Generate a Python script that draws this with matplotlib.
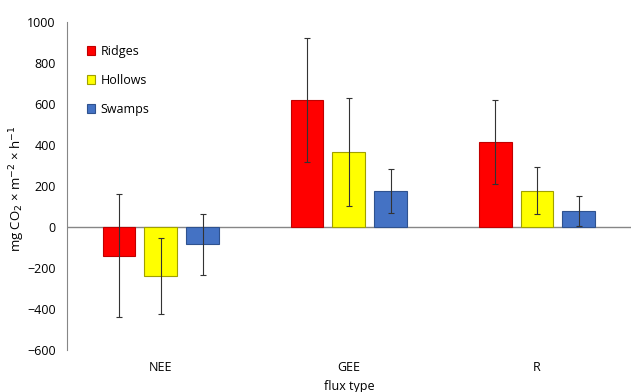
import numpy as np
import matplotlib.pyplot as plt

categories = ['NEE', 'GEE', 'R']
series = ['Ridges', 'Hollows', 'Swamps']
ridges = [-140, 620, 415]
hollows = [-240, 366, 177]
swamps = [-85, 176, 77]
ridges_err = [300, 303, 206]
hollows_err = [185, 265, 115]
swamps_err = [150, 106, 72]

colors = ['#FF0000', '#FFFF00', '#4472C4']
edges = ['#C00000', '#A0A000', '#2F528F']

plt.rcParams['font.family'] = ['Open Sans', 'DejaVu Sans']
fig = plt.figure(figsize=(6.31, 3.92), dpi=100)
ax = fig.add_axes([0.106, 0.107, 0.894, 0.837])

x = np.arange(len(categories))
w = 0.175
step = 0.223
for i, (vals, errs) in enumerate(zip([ridges, hollows, swamps], [ridges_err, hollows_err, swamps_err])):
    ax.bar(x + (i - 1) * step, vals, w, color=colors[i], edgecolor=edges[i], linewidth=0.8,
           label=series[i], zorder=2)
    ax.errorbar(x + (i - 1) * step, vals, yerr=errs, fmt='none', ecolor='#333333',
                elinewidth=0.8, capsize=2, capthick=0.8, zorder=3)

ax.axhline(0, color='#868686', linewidth=1, zorder=1)
ax.set_xlim(-0.5, 2.5)
ax.set_ylim(-600, 1000)
ax.set_yticks(np.arange(-600, 1001, 200))
ax.set_xticks(x)
ax.set_xticklabels(categories)
ax.tick_params(axis='both', length=0, labelsize=9, colors='#000000')
ax.tick_params(axis='x', pad=8)
ax.tick_params(axis='y', pad=8)
for s in ['top', 'right', 'bottom']:
    ax.spines[s].set_visible(False)
ax.spines['left'].set_color('#868686')

ax.set_xlabel('flux type', fontsize=9, labelpad=4)
ax.set_ylabel(r'mg CO$_2$ × m$^{-2}$ × h$^{-1}$', fontsize=9.5)
ax.yaxis.set_label_coords(-0.07, 0.49)

ax.legend(loc='upper left', bbox_to_anchor=(0.015, 0.965), frameon=False, fontsize=9,
          handlelength=0.7, handleheight=0.7, labelspacing=1.3, handletextpad=0.4)

fig.savefig('out.png', dpi=100)
